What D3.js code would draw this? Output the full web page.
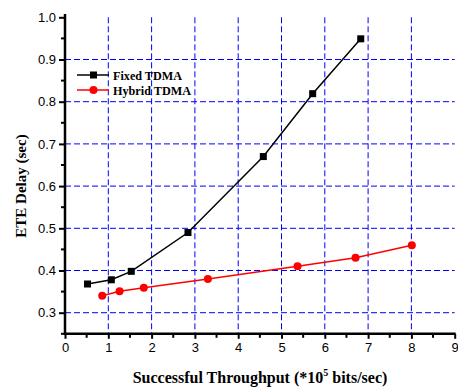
<!DOCTYPE html>
<html><head><meta charset="utf-8">
<script src="https://cdn.jsdelivr.net/npm/d3@7"></script>
<style>body{margin:0;background:#fff}svg{display:block}</style>
</head><body>
<script>
const fixedX = [0.52, 1.07, 1.53, 2.84, 4.58, 5.72, 6.83];
const fixedY = [0.368, 0.378, 0.398, 0.490, 0.670, 0.819, 0.949];
const hybridX = [0.86, 1.26, 1.82, 3.30, 5.37, 6.71, 8.01];
const hybridY = [0.340, 0.351, 0.359, 0.380, 0.410, 0.430, 0.460];
const xTicks = [0,1,2,3,4,5,6,7,8,9];
const yTicks = [0.3,0.4,0.5,0.6,0.7,0.8,0.9,1.0];
const seriesNames = ["Fixed TDMA","Hybrid TDMA"];

const W=458,H=387;
const svg=d3.select("body").append("svg").attr("width",W).attr("height",H);
const x=d3.scaleLinear().domain([0,9]).range([65,454.7]);
const y=d3.scaleLinear().domain([0.25,1.0]).range([333.8,17.3]);
const serif="Liberation Serif, Times New Roman, serif";

// grid
const g=svg.append("g");
g.selectAll(".vg").data(xTicks.filter(d=>d>0&&d<9)).join("line")
 .attr("x1",d=>x(d)).attr("x2",d=>x(d)).attr("y1",y(1.0)).attr("y2",y(0.25))
 .attr("stroke","#0000ff").attr("stroke-width",1).attr("stroke-dasharray","6,3");
g.selectAll(".hg").data(yTicks.filter(d=>d<1)).join("line")
 .attr("x1",x(0)).attr("x2",x(9)).attr("y1",d=>y(d)).attr("y2",d=>y(d))
 .attr("stroke","#0000ff").attr("stroke-width",1).attr("stroke-dasharray","6,3");

// axes
const yAxis=d3.axisLeft(y).tickValues(yTicks).tickFormat(d3.format(".1f")).tickSize(6).tickPadding(3);
const ya=svg.append("g").attr("transform",`translate(${x(0)},0)`).call(yAxis);
ya.select(".domain").remove();
const yMinor=d3.range(0.25,1.0,0.1).map(v=>+v.toFixed(2));
ya.selectAll(".minor").data(yMinor).join("line").attr("x1",0).attr("x2",-4)
 .attr("y1",d=>y(d)).attr("y2",d=>y(d)).attr("stroke","#000").attr("stroke-width",2);
const xAxis=d3.axisBottom(x).tickValues(xTicks).tickSize(5).tickPadding(4);
const xa=svg.append("g").attr("transform",`translate(0,${y(0.25)})`).call(xAxis);
xa.select(".domain").remove();
const xMinor=d3.range(0.5,9,1);
xa.selectAll(".minor").data(xMinor).join("line").attr("x1",d=>x(d)).attr("x2",d=>x(d))
 .attr("y1",0).attr("y2",4).attr("stroke","#000").attr("stroke-width",2);
[ya,xa].forEach(a=>{a.selectAll(".tick line").attr("stroke-width",2);
 a.selectAll("text").attr("font-family","Liberation Sans, Arial, sans-serif").attr("font-size",13).attr("fill","#000");});
svg.append("line").attr("x1",x(0)).attr("x2",x(0)).attr("y1",14).attr("y2",y(0.25)+1.2).attr("stroke","#000").attr("stroke-width",2.5);
svg.append("line").attr("x1",x(0)-1.2).attr("x2",x(9)+1).attr("y1",y(0.25)).attr("y2",y(0.25)).attr("stroke","#000").attr("stroke-width",2.5);

// series
const line=d3.line().x(d=>x(d[0])).y(d=>y(d[1]));
const fixed=fixedX.map((v,i)=>[v,fixedY[i]]);
const hybrid=hybridX.map((v,i)=>[v,hybridY[i]]);
svg.append("path").datum(fixed).attr("d",line).attr("fill","none").attr("stroke","#000").attr("stroke-width",1.5);
svg.selectAll(".sq").data(fixed).join("rect").attr("x",d=>x(d[0])-3.5).attr("y",d=>y(d[1])-3.5)
 .attr("width",7).attr("height",7).attr("fill","#000");
svg.append("path").datum(hybrid).attr("d",line).attr("fill","none").attr("stroke","#ff0000").attr("stroke-width",1.5);
svg.selectAll(".ci").data(hybrid).join("circle").attr("cx",d=>x(d[0])).attr("cy",d=>y(d[1])).attr("r",4).attr("fill","#ff0000");

// legend
const lg=svg.append("g");
[[seriesNames[0],"#000","sq",75,69],[seriesNames[1],"#ff0000","ci",90,78]].forEach(([n,c,m,yy,tl])=>{
  lg.append("line").attr("x1",77).attr("x2",109).attr("y1",yy).attr("y2",yy).attr("stroke",c).attr("stroke-width",1.5);
  if(m==="sq") lg.append("rect").attr("x",93.5-3.5).attr("y",yy-3.5).attr("width",7).attr("height",7).attr("fill",c);
  else lg.append("circle").attr("cx",93.5).attr("cy",yy).attr("r",4).attr("fill",c);
  lg.append("text").attr("x",113).attr("y",yy+4.5).text(n).attr("font-family",serif)
   .attr("font-weight","bold").attr("font-size",13.5).attr("fill","#000")
   .attr("textLength",tl).attr("lengthAdjust","spacingAndGlyphs");
});

// axis titles
svg.append("text").attr("transform","translate(26,186) rotate(-90)").attr("text-anchor","middle")
 .attr("font-family",serif).attr("font-weight","bold").attr("font-size",15)
 .text("ETE Delay (sec)");
const xt=svg.append("text").attr("x",260).attr("y",383).attr("text-anchor","middle")
 .attr("font-family",serif).attr("font-weight","bold").attr("font-size",16);
xt.append("tspan").text("Successful Throughput (*10");
xt.append("tspan").attr("font-size",10).attr("dy",-7).text("5");
xt.append("tspan").attr("dy",7).text(" bits/sec)");
</script>
</body></html>
